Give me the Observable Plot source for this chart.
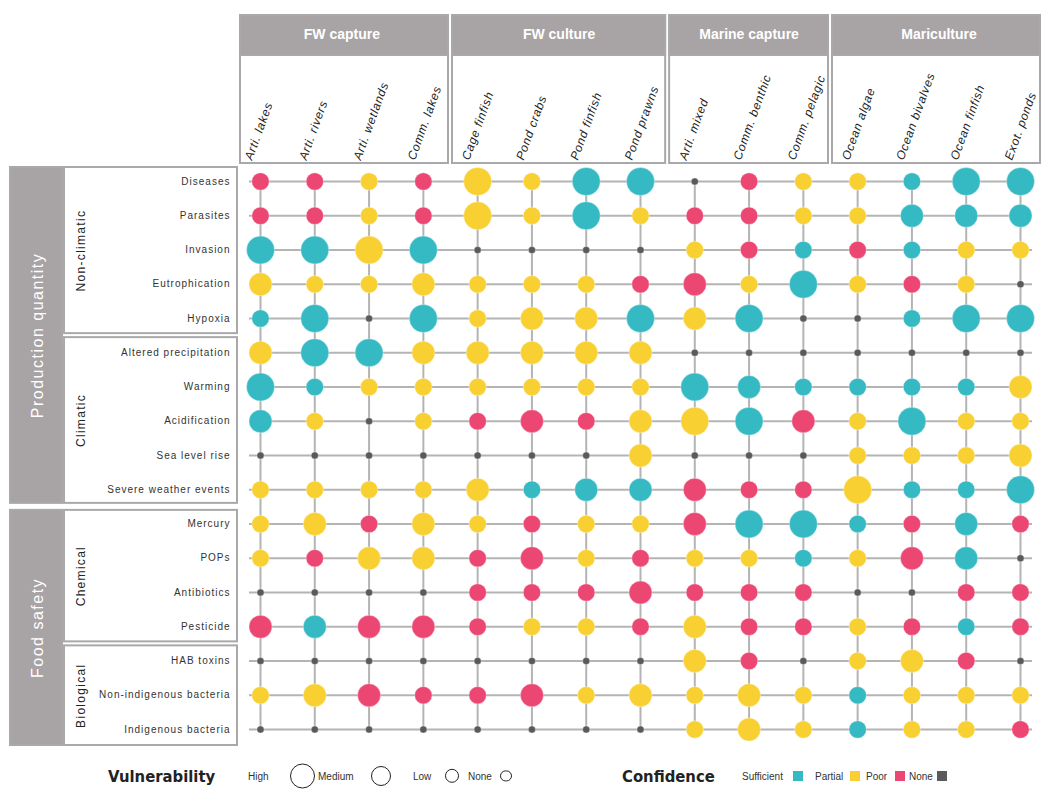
<!DOCTYPE html>
<html><head><meta charset="utf-8">
<script src="https://cdn.jsdelivr.net/npm/d3@7"></script>
<script src="https://cdn.jsdelivr.net/npm/@observablehq/plot@0.6"></script>
<style>
body{margin:0;background:#fff;font-family:"Liberation Sans",Arial,sans-serif;}
#legend{position:relative;width:1043px;height:32px;color:#222;}
#legend span{position:absolute;top:50%;transform:translateY(-50%);white-space:nowrap;}
#legend .h{font-family:"Liberation Sans Narrow","DejaVu Sans Condensed","Liberation Sans",sans-serif;font-weight:bold;font-size:16.5px;}
#legend .t{font-size:10px;color:#333;}
#legend .c{border:1.3px solid #222;border-radius:50%;box-sizing:border-box;}
#legend .s{width:10px;height:10px;}
</style></head><body>
<div id="chart"></div>
<div id="legend"></div>
<script>
// ---------- data ----------
const sectors = ["Arti. lakes","Arti. rivers","Arti. wetlands","Comm. lakes","Cage finfish","Pond crabs","Pond finfish","Pond prawns","Arti. mixed","Comm. benthic","Comm. pelagic","Ocean algae","Ocean bivalves","Ocean finfish","Exot. ponds"];
const sectorGroups = ["FW capture","FW culture","Marine capture","Mariculture"];
const sectorGroupSizes = [4,4,3,4];
const hazards = ["Diseases","Parasites","Invasion","Eutrophication","Hypoxia","Altered precipitation","Warming","Acidification","Sea level rise","Severe weather events","Mercury","POPs","Antibiotics","Pesticide","HAB toxins","Non-indigenous bacteria","Indigenous bacteria"];
const hazardSubgroups = ["Non-climatic","Climatic","Chemical","Biological"];
const hazardSubgroupSizes = [5,5,4,3];
const hazardDomains = ["Production quantity","Food safety"];
const hazardDomainSizes = [2,2]; // number of subgroups per domain
// vulnerability per hazard row, one letter per sector: H high, M medium, L low, N none
const vulnerability = [
 "LLLLHLHHNLLLLHH",
 "LLLLHLHLLLLLMMM",
 "HHHHNNNNLLLLLLL",
 "MLLMLLLLMLHLLLN",
 "LHNHLMMHMHNNLHH",
 "MHHMMMMMNNNNNNN",
 "HLLLLLLLHMLLLLM",
 "MLNLLMLMHHMLHLL",
 "NNNNNNNMNNNLLLM",
 "LLLLMLMMMLLHLLH",
 "LMLMLLLLMHHLLML",
 "LLMMLMLLLLLLMMN",
 "NNNNLLLMLLLNNLL",
 "MMMMLLLLMLLLLLL",
 "NNNNNNNNMLNLMLN",
 "LMMLLMLMLMLLLLL",
 "NNNNNNNNLMLLLLL"
];
// confidence per hazard row: S sufficient, P partial, R poor, N none
const confidence = [
 "RRPRPPSSNRPPSSS",
 "RRPRPPSPRRPPSSS",
 "SSPSNNNNPRSRSPP",
 "PPPPPPPRRPSPRPN",
 "SSNSPPPSPSNNSSS",
 "PSSPPPPPNNNNNNN",
 "SSPPPPPPSSSSSSP",
 "SPNPRRRPPSRPSPP",
 "NNNNNNNPNNNPPPP",
 "PPPPPSSSRRRPSSS",
 "PPRPPRPPRSSSRSR",
 "PRPPRRPRPPSPRSN",
 "NNNNRRRRRRRNNRR",
 "RSRRRPPRPRRPRSR",
 "NNNNNNNNPRNPPRN",
 "PPRRRRPPPPPSPPP",
 "NNNNNNNNPPPSPPR"
];
const vulnLevels = ["High","Medium","Low","None"];
const confLevels = ["Sufficient","Partial","Poor","None"];

// ---------- styles ----------
const vulnCode = {H:"High",M:"Medium",L:"Low",N:"None"};
const confCode = {S:"Sufficient",P:"Partial",R:"Poor",N:"None"};
const radius = {High:14, Medium:11.5, Low:8.7, None:3.6};
const colors = ["#35b9c3","#f8d032","#ec4673","#5a5a5a"];
const lineGray = "#b4b4b4", boxGray = "#a9a9a9", fillGray = "#a8a3a4";

const cells = hazards.flatMap((h, i) => sectors.map((s, j) => ({
  row: i, col: j, hazard: h, sector: s,
  vuln: vulnCode[vulnerability[i][j]], conf: confCode[confidence[i][j]]
})));

// ---------- layout ----------
const W = 1043, H = 760;
const px0 = 260, px1 = 1020, py0 = 181, py1 = 729;
const cs = (px1 - px0) / (sectors.length - 1), rs = (py1 - py0) / (hazards.length - 1);
const X = p => (p - px0) / cs, Y = p => (p - py0) / rs;

// column groups
let acc = 0;
const colGroups = sectorGroups.map((g, k) => {
  const a = acc, b = acc + sectorGroupSizes[k] - 1; acc += sectorGroupSizes[k];
  return {name: g, a, b,
    x1: a === 0 ? a - 20 / cs : a - 0.5 + 2 / cs,
    x2: b === sectors.length - 1 ? b + 20 / cs : b + 0.5 - 2 / cs};
});
// row subgroups
acc = 0;
const rowGroups = hazardSubgroups.map((g, k) => {
  const a = acc, b = acc + hazardSubgroupSizes[k] - 1; acc += hazardSubgroupSizes[k];
  return {name: g, a, b};
});
let sg = 0;
const domainGroups = hazardDomains.map((d, k) => {
  const subs = rowGroups.slice(sg, sg + hazardDomainSizes[k]); sg += hazardDomainSizes[k];
  return {name: d, subs, a: subs[0].a, b: subs[subs.length - 1].b};
});
const lastRow = hazards.length - 1;
domainGroups.forEach((d, k) => {
  d.y1 = d.a === 0 ? d.a - 14 / rs : d.a - 0.5 + 3.5 / rs;
  d.y2 = d.b === lastRow ? d.b + 16 / rs : d.b + 0.5 - 3.5 / rs;
  d.subs.forEach((s, m) => {
    s.y1 = m === 0 ? d.y1 : s.a - 0.5 + 2 / rs;
    s.y2 = m === d.subs.length - 1 ? d.y2 : s.b + 0.5 - 2 / rs;
  });
});

const chart = Plot.plot({
  width: W, height: H,
  marginTop: 0, marginBottom: 0, marginLeft: 0, marginRight: 0,
  x: {type: "linear", domain: [0, sectors.length - 1], range: [px0, px1], axis: null},
  y: {type: "linear", domain: [0, lastRow], range: [py0, py1], axis: null},
  r: {type: "identity"},
  color: {type: "ordinal", domain: confLevels, range: colors},
  style: {fontFamily: "'Liberation Sans', Arial, sans-serif", background: "#fff"},
  marks: [
    // column header boxes
    Plot.rect(colGroups, {x1: "x1", x2: "x2", y1: Y(15), y2: Y(163), fill: "white", stroke: boxGray, strokeWidth: 2}),
    Plot.rect(colGroups, {x1: "x1", x2: "x2", y1: Y(15), y2: Y(55), fill: fillGray, stroke: boxGray, strokeWidth: 2}),
    Plot.text(colGroups, {x: d => (d.a + d.b) / 2, y: Y(34), text: "name", fill: "white", fontWeight: "bold", fontSize: 14}),
    Plot.text(sectors, {x: (d, i) => i, y: Y(159), text: d => d, dx: -12, rotate: -70, textAnchor: "start", fontSize: 12, fontStyle: "italic", fill: "#222"}),
    // left domain bars
    Plot.rect(domainGroups, {x1: X(10), x2: X(62), y1: "y1", y2: "y2", fill: fillGray, stroke: boxGray, strokeWidth: 2}),
    Plot.text(domainGroups, {x: X(37), y: d => (d.y1 + d.y2) / 2, text: "name", rotate: -90, fill: "white", fontSize: 16}),
    // subgroup boxes
    Plot.rect(rowGroups, {x1: X(64), x2: X(237), y1: "y1", y2: "y2", fill: "white", stroke: boxGray, strokeWidth: 2}),
    Plot.text(rowGroups, {x: X(81), y: d => (d.y1 + d.y2) / 2, text: "name", rotate: -90, fontSize: 12, fill: "#222"}),
    Plot.text(hazards, {x: X(230), y: (d, i) => i, text: d => d, textAnchor: "end", fontSize: 10, fill: "#333"}),
    // grid
    Plot.ruleY(hazards, {y: (d, i) => i, x1: X(249), x2: X(1032), stroke: lineGray, strokeWidth: 2}),
    Plot.ruleX(sectors, {x: (d, i) => i, y1: 0, y2: lastRow, stroke: lineGray, strokeWidth: 2}),
    // cells
    Plot.dot(cells, {x: "col", y: "row", r: d => radius[d.vuln], fill: "conf", stroke: "white", strokeWidth: 0.6, strokeOpacity: 0.6})
  ]
});
const sel = d3.select(chart).selectAll("text");
sel.filter(function() { return hazardDomains.includes(this.textContent); })
  .attr("letter-spacing", "1.5px").attr("font-weight", "300");
sel.filter(function() { return hazards.includes(this.textContent); }).attr("letter-spacing", "1px");
sel.filter(function() { return sectors.includes(this.textContent); }).attr("letter-spacing", "0.7px");
sel.filter(function() { return hazardSubgroups.includes(this.textContent); }).attr("letter-spacing", "1.3px");
document.getElementById("chart").appendChild(chart);

// ---------- legend ----------
const leg = d3.select("#legend");
leg.append("span").attr("class", "h").style("left", "108px").text("Vulnerability");
const vPos = [[248, 302], [318, 381], [413, 452], [468, 506]];
vulnLevels.forEach((v, k) => {
  leg.append("span").attr("class", "t").style("left", vPos[k][0] + "px").text(v);
  const d = radius[v] * 2 - (v === "None" ? -4 : 3);
  leg.append("span").attr("class", "c").style("left", (vPos[k][1] - d / 2) + "px")
    .style("width", d + "px").style("height", d + "px");
});
leg.append("span").attr("class", "h").style("left", "622px").text("Confidence");
const cPos = [[742, 793], [815, 850], [866, 895], [909, 937]];
confLevels.forEach((c, k) => {
  leg.append("span").attr("class", "t").style("left", cPos[k][0] + "px").text(c);
  leg.append("span").attr("class", "s").style("left", cPos[k][1] + "px").style("background", colors[k]);
});
</script>
</body></html>
